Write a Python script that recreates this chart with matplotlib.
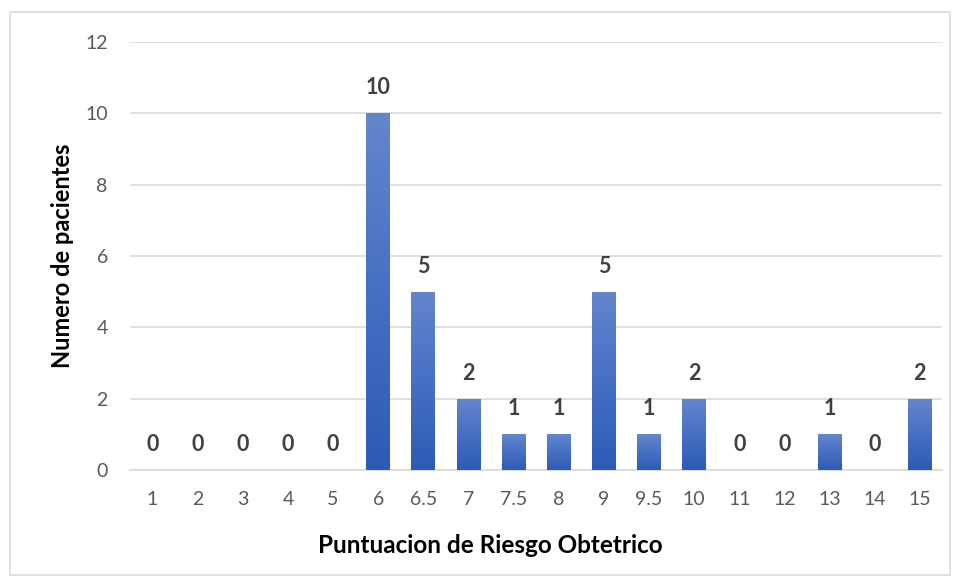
import matplotlib.pyplot as plt
import numpy as np
from matplotlib.patches import Rectangle
from matplotlib.colors import LinearSegmentedColormap

categorias = ['1', '2', '3', '4', '5', '6', '6.5', '7', '7.5', '8', '9', '9.5',
              '10', '11', '12', '13', '14', '15']
pacientes = [0, 0, 0, 0, 0, 10, 5, 2, 1, 1, 5, 1, 2, 0, 0, 1, 0, 2]

plt.rcParams['font.family'] = ['Lato', 'DejaVu Sans']

fig = plt.figure(figsize=(9.58, 5.83), dpi=100)
ax = fig.add_axes([0.1357, 0.1938, 0.848, 0.734])

# borde del grafico
fig.patches.append(Rectangle((10/958, 8/583), 940/958, 563/583, transform=fig.transFigure,
                             fill=False, edgecolor='#d9d9d9', linewidth=1.2))

x = np.arange(len(categorias))
barras = ax.bar(x, pacientes, width=0.53, color='none', zorder=3)

# degradado azul
cmap = LinearSegmentedColormap.from_list('azul', ['#2c5bb5', '#4770c4', '#6386cd'])
grad = np.linspace(0, 1, 256).reshape(-1, 1)
for b in barras:
    h = b.get_height()
    if h <= 0:
        continue
    x0 = b.get_x()
    w = b.get_width()
    im = ax.imshow(grad, cmap=cmap, aspect='auto', origin='lower',
                   extent=[x0, x0 + w, 0, h], zorder=3)
    im.set_clip_path(b)

for xi, v in zip(x, pacientes):
    ax.text(xi, v + 0.42, str(v), ha='center', va='bottom', fontsize=15.5,
            fontweight='bold', color='#404040', zorder=4)

ax.set_xlim(-0.5, len(categorias) - 0.5)
ax.set_ylim(0, 12)
ax.set_yticks(range(0, 13, 2))
ax.set_xticks(x)
ax.set_xticklabels(categorias)
ax.grid(axis='y', color='#d9d9d9', linewidth=1.2, zorder=0)
for s in ['top', 'right', 'left']:
    ax.spines[s].set_visible(False)
ax.spines['bottom'].set_color('#d9d9d9')
ax.spines['bottom'].set_linewidth(1.2)
ax.tick_params(axis='both', length=0, labelsize=14, colors='#595959')
ax.tick_params(axis='y', pad=16)
ax.tick_params(axis='x', pad=15)

ax.set_xlabel('Puntuacion de Riesgo Obtetrico', fontsize=17.5, fontweight='bold',
              color='black', va='center')
ax.set_ylabel('Numero de pacientes', fontsize=17, fontweight='bold',
              color='black', va='center')
ax.xaxis.set_label_coords(0.443, -0.1775)
ax.yaxis.set_label_coords(-0.0837, 0.5)

fig.savefig('out.png', dpi=100)
